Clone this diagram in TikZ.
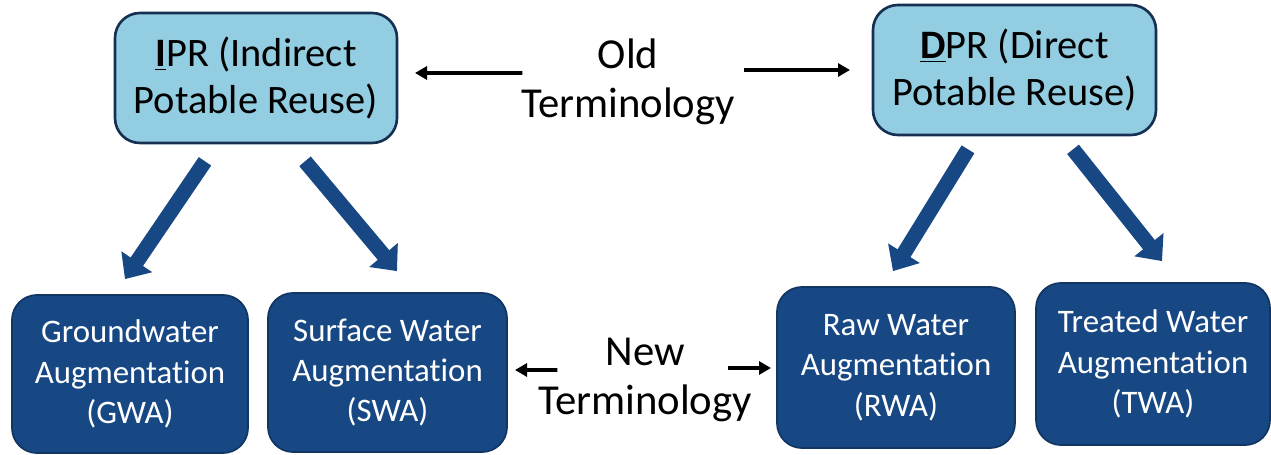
\documentclass[tikz,border=0pt]{standalone}
\usepackage{fontspec}
\setmainfont[Ligatures=NoCommon]{Carlito}
\usetikzlibrary{arrows.meta}
\definecolor{lightbox}{RGB}{146,205,225}
\definecolor{darkbox}{RGB}{24,72,132}
\definecolor{boxline}{RGB}{22,48,84}
\tikzstyle{oldbox}=[draw=boxline, line width=1.5pt, fill=lightbox, rounded corners=0.5cm, align=center, inner sep=0pt, font=\fontsize{23}{26.5}\selectfont]
\tikzstyle{newbox}=[draw=darkbox!75!black, line width=1pt, fill=darkbox, text=white, rounded corners=0.5cm, align=center, inner sep=0pt, font=\fontsize{18.7}{23}\selectfont]
\tikzstyle{term}=[align=center, inner sep=2pt, font=\fontsize{24.3}{28}\selectfont]
\tikzstyle{thinarrow}=[-{Triangle[width=0.26cm,length=0.24cm]}, line width=2.2pt]
\tikzstyle{fatarrow}=[-{Triangle[width=0.72cm,length=0.42cm]}, line width=0.3cm, draw=darkbox]

\begin{document}
\begin{tikzpicture}
\useasboundingbox (0,0) rectangle (25.42,-9.1);
\node[oldbox, minimum width=5.64cm, minimum height=2.6cm] (ipr) at (5.12,-1.56) {\underline{\textbf{I}}PR (Indirect\\Potable Reuse)};
\node[oldbox, minimum width=5.66cm, minimum height=2.6cm] (dpr) at (20.29,-1.40) {\underline{\textbf{D}}PR (Direct\\Potable Reuse)};
\node[newbox, minimum width=4.72cm, minimum height=3.16cm] (gwa) at (2.60,-7.48) {Groundwater\\Augmentation\\(GWA)};
\node[newbox, minimum width=4.78cm, minimum height=3.18cm] (swa) at (7.75,-7.45) {Surface Water\\Augmentation\\(SWA)};
\node[newbox, minimum width=4.76cm, minimum height=3.22cm] (rwa) at (17.92,-7.35) {Raw Water\\Augmentation\\(RWA)};
\node[newbox, minimum width=4.68cm, minimum height=3.24cm] (twa) at (23.06,-7.28) {Treated Water\\Augmentation\\(TWA)};
\node[term] (old) at (12.56,-1.64) {Old\\Terminology};
\node[term] (new) at (12.90,-7.60) {New\\Terminology};
\coordinate (oldL) at (8.30,-1.46);
\coordinate (oldR) at (17.00,-1.40);
\coordinate (newL) at (10.30,-7.40);
\coordinate (newR) at (15.42,-7.36);
% old / new terminology pointers
\draw[thinarrow]([xshift=0.1cm,yshift=0.18cm]old.west)--(oldL);\draw[thinarrow]([xshift=0.1cm,yshift=0.24cm]old.east)--(oldR);
\draw[thinarrow]([xshift=0.46cm,yshift=0.2cm]new.west)--(newL);\draw[thinarrow]([xshift=-0.56cm,yshift=0.24cm]new.east)--(newR);
% big arrows
\draw[fatarrow]([xshift=-1.02cm,yshift=-0.34cm]ipr.south)--([xshift=-0.1cm,yshift=0.3cm]gwa.north);
\draw[fatarrow]([xshift=0.98cm,yshift=-0.34cm]ipr.south)--([xshift=0.19cm,yshift=0.42cm]swa.north);
\draw[fatarrow]([xshift=-0.93cm,yshift=-0.26cm]dpr.south)--([xshift=-0.06cm,yshift=0.3cm]rwa.north);
\draw[fatarrow]([xshift=1.17cm,yshift=-0.26cm]dpr.south)--([xshift=0.18cm,yshift=0.42cm]twa.north);
\end{tikzpicture}
\end{document}
